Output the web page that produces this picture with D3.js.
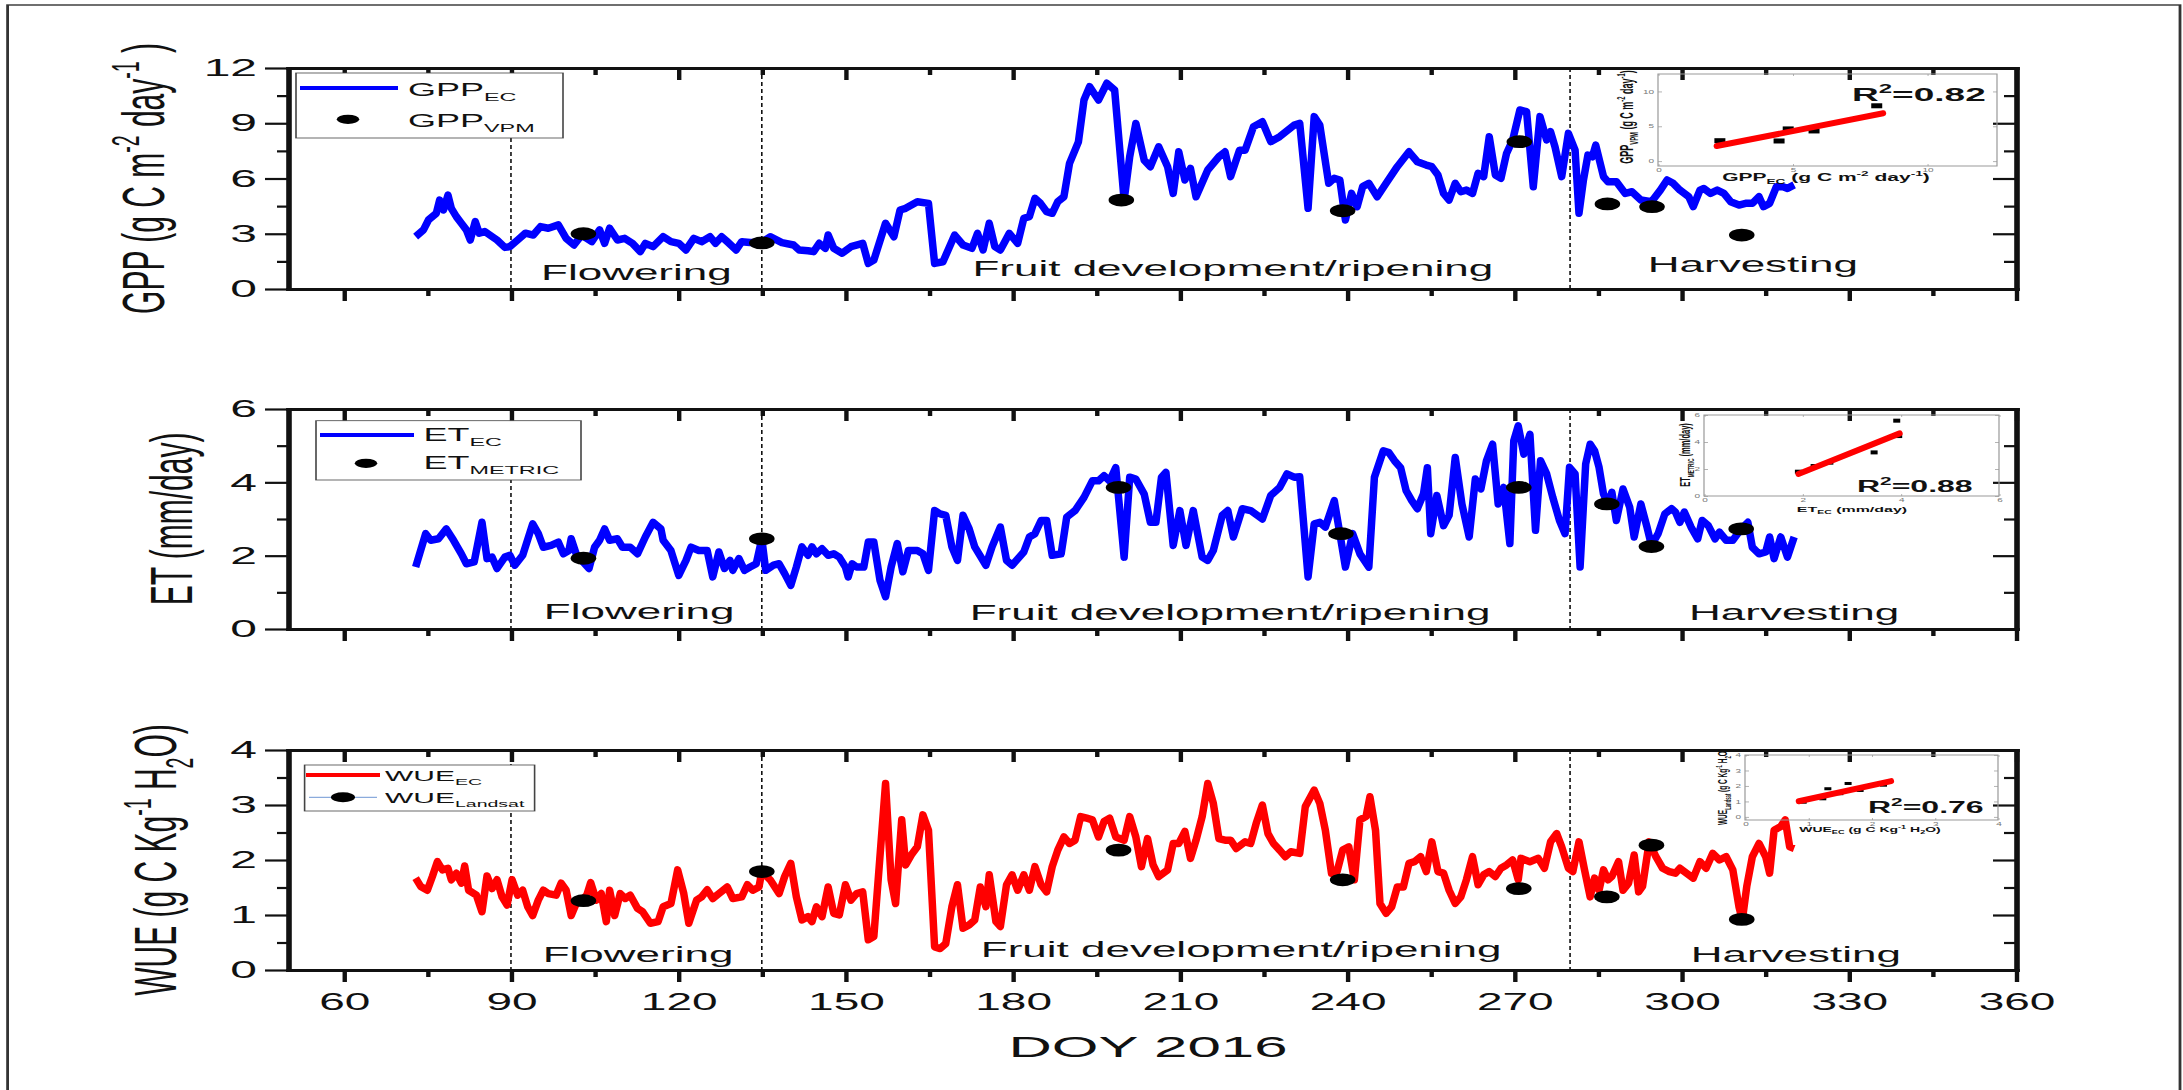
<!DOCTYPE html>
<html>
<head>
<meta charset="utf-8">
<script src="https://cdn.jsdelivr.net/npm/d3@7"></script>
<style>
  body { margin: 0; background: #fff; }
  text { font-family: "Liberation Sans", Arial, sans-serif; }
</style>
</head>
<body>
<svg id="chart" width="2183" height="1090"></svg>
<script>
// x axis ticks and crop phases (DOY)
const doyMajor = [60, 90, 120, 150, 180, 210, 240, 270, 300, 330, 360];
const doyMinor = [75, 105, 135, 165, 195, 225, 255, 285, 315, 345];
const phaseBounds = [90, 135, 280];
const phaseNames = ['Flowering', 'Fruit development/ripening', 'Harvesting'];

// y ticks
const gppTicks = [0, 3, 6, 9, 12], gppMinor = [1.5, 4.5, 7.5, 10.5];
const etTicks = [0, 2, 4, 6], etMinor = [1, 3, 5];
const wueTicks = [0, 1, 2, 3, 4], wueMinor = [0.5, 1.5, 2.5, 3.5];

// eddy covariance series [DOY, value]
const gppEC = [[72.9,2.84],[74.3,3.21],[75.2,3.75],[76.6,4.11],[77.2,4.83],[77.9,4.29],[78.7,5.10],[79.3,4.38],[80.2,3.93],[81.1,3.57],[82.0,3.21],[82.7,2.66],[83.6,3.66],[84.3,3.03],[85.3,3.12],[86.2,2.93],[87.5,2.66],[88.9,2.26],[89.8,2.30],[91.2,2.66],[92.6,3.03],[94.0,2.93],[95.3,3.39],[96.7,3.30],[98.5,3.48],[99.9,2.75],[101.3,2.39],[102.7,2.93],[104.5,2.57],[105.9,3.21],[106.8,2.48],[107.7,3.30],[109.1,2.66],[110.4,2.75],[111.8,2.48],[113.2,2.03],[114.1,2.48],[115.5,2.30],[117.3,2.84],[118.7,2.57],[120.1,2.48],[121.4,2.12],[122.8,2.75],
  [124.2,2.57],[125.7,2.84],[126.7,2.48],[127.8,2.84],[128.8,2.57],[130.4,2.12],[131.4,2.57],[132.9,2.52],[135,2.52],[136.5,2.84],[138.6,2.52],[140.7,2.39],[141.7,2.12],[143.3,2.08],[144.3,2.03],[145.3,2.48],[146.4,2.21],[146.9,2.93],[147.9,2.21],[149.4,1.94],[151,2.30],[153.1,2.48],[154.1,1.39],[155.1,1.57],[157.2,3.57],[158.7,2.84],[159.8,4.29],[160.8,4.38],[162.9,4.74],[164.9,4.65],[166,1.39],[167.5,1.48],[169.6,2.93],[171.1,2.39],[172.7,2.21],[173.7,3.02],[174.7,2.12],[175.8,3.57],[176.8,2.30],[177.8,2.12],[179.4,3.02],[180.9,2.48],[182,3.84],[183,3.93],[184,4.92],[185,4.65],[186.1,4.20],[187.1,4.11],[188.1,4.74],[189.2,5.01],[190.2,6.82],[191.8,7.99],[192.8,10.26],[193.8,10.99],[195.4,10.26],[196.9,11.17],[198.3,10.8],[200,4.83],[201,7.18],[202.1,8.99],[203.6,7.00],[204.7,6.64],[206.2,7.72],[207.8,6.64],[208.8,5.19],[209.8,7.45],[210.9,5.92],[211.9,6.55],[212.9,5.01],[215,6.46],[217,7.18],[218.1,7.45],[219.1,6.10],[220.7,7.54],[221.7,7.54],[223.2,8.81],[224.8,9.08],[226.3,8.00],[227.9,8.27],[230.5,8.90],[231.5,8.99],[233,4.38],[234.1,9.36],[235.1,8.90],[236.7,5.74],[237.7,6.01],[238.7,5.92],[239.7,3.75],[240.8,5.19],[241.8,4.47],[242.8,5.56],[243.9,5.74],[245.4,5.01],[247,5.74],[249,6.64],[251.1,7.45],[252.6,6.91],[254.2,6.73],[255.2,6.64],[256.3,6.19],[257.3,5.19],[258.3,4.83],[259.4,5.74],[260.4,5.28],[261.4,5.37],[262.5,5.19],[263.5,6.28],[264.5,6.10],[265.5,8.27],[266.6,6.19],[267.6,6.01],[268.6,7.36],[269.7,8.09],
  [271.0,9.72],[272.2,9.63],[273.4,5.55],[274.6,9.36],[275.8,8.09],[276.5,8.54],[277.3,7.72],[278.5,6.10],[279.7,8.45],[280.9,7.54],[281.6,4.11],[282.4,5.92],[283.2,7.27],[284.0,7.18],[284.6,7.81],[286.0,6.10],[286.8,5.83],[288.3,5.83],[289.9,5.19],[291.1,5.28],[292.7,4.83],[294.6,4.74],[296.2,5.37],[297.4,5.92],[298.5,5.74],[299.7,5.37],[301.3,5.01],[302.1,4.47],[303.3,5.37],[304.0,5.46],[305.2,5.19],[306.4,5.37],[307.6,5.19],[308.8,4.74],[310.3,4.56],[311.5,4.65],[312.7,4.65],[313.9,5.01],[314.7,4.47],[315.8,4.65],[317.0,5.55],[318.2,5.55],[319.0,5.46],[320.2,5.65]];

const etEC = [[72.9,1.69],[74.7,2.60],[75.6,2.42],[77.0,2.46],[78.4,2.73],[79.7,2.42],[81.1,2.05],[82.0,1.78],[83.4,1.83],[84.8,2.91],[85.7,1.92],[86.6,1.96],[87.5,1.65],[88.9,1.96],[89.8,2.01],[90.7,1.74],[92.1,2.01],[93.9,2.87],[94.9,2.60],[95.8,2.23],[97.2,2.28],[98.5,2.37],[99.4,2.05],[100.4,2.14],[100.8,2.46],[101.7,2.05],[102.7,1.87],[104.0,1.65],[105.0,2.23],[105.9,2.42],[106.8,2.73],[107.7,2.42],[109.1,2.46],[110.0,2.23],[111.4,2.23],[112.7,2.05],[114.1,2.51],[115.5,2.91],[116.9,2.73],[117.3,2.42],[118.7,2.14],[120.1,1.46],[121.4,1.87],[122.3,2.23],[123.7,2.14],
  [125.2,2.14],[126.2,1.42],[127.3,2.10],[128.3,1.65],[129.3,1.87],[129.8,1.60],[130.9,1.92],[131.9,1.60],[132.9,1.69],[134.0,1.78],[135.0,2.46],[135.7,1.60],[137.1,1.74],[138.1,1.78],[139.1,1.51],[140.2,1.19],[141.2,1.69],[142.2,2.24],[143.3,2.01],[144.0,2.24],[144.8,2.05],[145.8,2.19],[146.9,2.01],[147.9,2.05],[148.9,1.96],[150.0,1.69],[150.5,1.42],[151.2,1.78],[152.0,1.69],[153.3,1.69],[154.1,2.37],[155.1,2.37],[156.2,1.33],[157.2,0.88],[158.2,1.69],[159.3,2.33],[160.3,1.56],[161.3,2.14],[162.9,2.14],[163.9,2.05],[164.9,1.60],[166.0,3.23],[167.0,3.14],[168.0,3.10],[169.1,2.24],[170.1,1.87],[171.1,3.10],[172.2,2.73],[173.2,2.24],[175.2,1.74],[176.3,2.24],[177.8,2.78],[178.9,1.87],[179.9,1.74],[182.0,2.10],[183.0,2.51],[184.0,2.60],[185.1,2.96],[186.1,2.96],[187.1,2.01],[188.7,2.05],[189.7,3.05],[191.2,3.23],[192.8,3.59],[194.3,4.04],[195.4,4.04],[196.4,4.18],[197.4,4.04],[198.5,4.40],[200.0,1.96],[201.0,4.14],[202.1,4.09],[203.6,3.68],[204.7,2.91],[205.7,2.91],[206.7,4.14],[207.5,4.27],[208.8,2.28],[210.0,3.23],[211.1,2.28],[212.4,3.23],[214.0,1.96],[215.0,1.87],[216.0,2.14],[217.6,3.10],[218.6,3.23],[219.6,2.51],[221.2,3.28],[222.7,3.23],[224.8,3.00],[226.3,3.64],[227.9,3.86],[229.2,4.23],[230.5,4.14],[231.5,4.15],[233.0,1.42],[234.1,2.87],[235.1,2.91],[236.1,2.78],[237.7,3.50],[238.7,2.60],[239.7,1.69],[241.0,2.60],[242.3,2.05],[243.9,1.69],[244.9,4.14],[246.5,4.86],[247.5,4.81],[248.5,4.59],[249.6,4.40],[250.6,3.77],[251.6,3.50],[252.6,3.28],[253.7,3.68],[254.4,4.40],[255.0,2.60],[256.1,3.64],[257.3,2.82],[258.3,3.10],[259.4,4.68],[260.6,3.41],[261.9,2.51],[263.0,4.09],[264.0,3.82],[265.0,4.59],[266.1,5.04],[267.1,3.41],[268.1,3.86],[269.2,2.33],[269.9,5.13],[270.7,5.54],[271.7,4.77],[272.8,5.31],[273.8,2.69],
  [274.7,4.59],[275.8,4.23],[276.9,3.59],[278.1,2.96],[279.1,2.60],[279.9,4.41],[280.9,4.23],[281.8,1.69],[282.8,4.50],[283.6,5.04],[284.4,4.86],[285.2,4.41],[286.0,3.68],[286.8,3.41],[287.5,3.73],[288.3,2.96],[289.5,3.82],[290.7,3.32],[291.5,2.51],[292.7,3.41],[293.8,2.78],[294.6,2.28],[295.8,2.60],[297.0,3.14],[298.2,3.28],[298.9,3.19],[299.7,2.91],[300.5,3.19],[301.7,2.78],[302.9,2.46],[303.7,2.96],[304.8,2.82],[306.0,2.46],[306.8,2.64],[308.0,2.42],[309.2,2.42],[310.7,2.73],[311.9,2.91],[312.7,2.23],[313.9,2.05],[315.1,2.10],[315.8,2.51],[316.6,1.92],[317.8,2.51],[319.0,1.96],[320.2,2.51]];

const wueEC = [[72.9,1.67],[73.8,1.52],[75.0,1.45],[75.9,1.70],[76.8,1.97],[77.7,1.82],[78.7,1.85],[79.3,1.64],[80.2,1.76],[81.1,1.58],[81.7,1.89],[82.4,1.45],[83.8,1.36],[84.8,1.06],[85.7,1.71],[86.6,1.48],[87.5,1.64],[88.4,1.33],[89.3,1.18],[90.2,1.64],[91.2,1.36],[92.1,1.45],[93.0,1.15],[93.9,0.99],[94.9,1.27],[95.8,1.45],[96.7,1.39],[98.1,1.36],[99.0,1.58],[99.9,1.45],[100.8,0.99],[101.7,1.21],[102.7,1.27],[103.6,1.36],[104.3,1.59],[105.3,1.27],[106.2,1.39],[107.1,0.88],[107.7,1.45],[108.6,0.99],[109.6,1.39],[110.5,1.30],[111.4,1.36],[112.7,1.12],[113.6,1.06],[115.0,0.85],[116.4,0.88],[117.3,1.15],[118.7,1.21],[119.9,1.82],[121.0,1.39],[121.9,0.85],[123.3,1.27],
  [124.2,1.33],[125.2,1.46],[126.2,1.30],[127.3,1.39],[128.8,1.51],[129.8,1.30],[131.4,1.33],[132.4,1.55],[133.4,1.45],[134.5,1.51],[135.0,1.79],[136.5,1.64],[138.1,1.39],[139.1,1.70],[140.2,1.94],[141.2,1.33],[142.2,0.91],[143.3,0.97],[144.0,0.88],[144.8,1.15],[145.8,0.97],[146.9,1.51],[147.9,1.03],[148.9,1.00],[150.0,1.55],[151.0,1.27],[152.0,1.39],[153.1,1.42],[154.1,0.55],[155.1,0.61],[157.2,3.39],[158.2,1.64],[159.0,1.21],[160.1,2.73],[160.8,1.91],[161.8,2.09],[162.9,2.24],[163.9,2.82],[164.9,2.54],[166.0,0.42],[167.0,0.39],[168.0,0.48],[169.1,1.15],[170.1,1.55],[171.1,0.76],[172.2,0.82],[173.2,0.91],[174.2,1.51],[175.2,1.15],[175.8,1.73],[177.0,0.88],[177.8,0.79],[178.9,1.55],[179.9,1.73],[180.9,1.45],[182.0,1.73],[183.0,1.45],[184.0,1.88],[185.1,1.55],[186.1,1.42],[187.1,1.88],[188.1,2.18],[189.2,2.42],[190.2,2.30],[191.2,2.36],[192.2,2.79],[193.3,2.76],[194.3,2.73],[195.4,2.42],[196.4,2.70],[197.4,2.76],[198.5,2.42],[200.0,2.36],[201.0,2.79],[202.1,2.42],[203.1,1.88],[204.2,2.39],[205.2,1.91],[206.2,1.70],[207.8,1.82],[208.8,2.30],[209.8,2.30],[210.9,2.52],[211.9,2.03],[212.9,2.36],[214.0,2.79],[215.0,3.39],[216.0,3.03],[217.0,2.39],[218.1,2.36],[219.1,2.36],[220.1,2.21],[221.7,2.33],[222.7,2.30],[223.7,2.67],[224.8,3.00],[225.8,2.48],[226.8,2.30],[227.9,2.18],[228.9,2.06],[229.9,2.15],[231.5,2.12],[232.5,2.97],[234.1,3.27],[235.1,3.03],[236.1,2.54],[237.2,1.76],[238.2,1.79],[239.2,2.18],[240.3,2.24],[241.3,1.64],[242.3,2.73],[243.4,2.79],[244.1,3.15],[245.1,2.54],[245.9,1.21],[247.0,1.03],[248.0,1.15],[249.0,1.51],[250.1,1.51],[251.1,1.94],[252.1,1.97],[253.2,2.06],[254.2,1.79],[255.2,2.33],[256.3,1.79],[257.3,1.76],[258.3,1.45],[259.4,1.21],[260.4,1.33],[261.4,1.64],[262.5,2.06],[263.5,1.55],[264.5,1.73],[265.5,1.79],[266.6,1.70],[267.6,1.85],[268.6,1.91],[269.7,2.00],[270.7,1.64],[271.2,2.03],[272.8,1.97],[274.3,2.03],
  [275.4,1.85],[276.5,2.33],[277.6,2.48],[278.5,2.24],[279.7,1.85],[280.5,1.79],[281.6,2.33],[282.6,1.82],[283.6,1.33],[284.4,1.67],[285.2,1.45],[286.0,1.82],[286.8,1.64],[287.5,1.70],[288.7,1.97],[289.5,1.45],[290.5,1.58],[291.5,2.09],[292.3,1.42],[293.0,1.52],[294.2,2.33],[295.4,2.06],[296.6,1.85],[297.8,1.79],[298.9,1.76],[299.7,1.85],[300.9,1.76],[302.1,1.67],[303.3,1.97],[304.4,1.85],[305.6,2.12],[306.8,2.00],[308.0,2.06],[309.2,1.82],[310.3,1.15],[310.9,0.91],[311.7,1.52],[312.7,2.06],[313.9,2.30],[315.1,2.06],[315.8,1.76],[316.6,2.54],[317.8,2.61],[318.6,2.73],[319.4,2.24],[320.2,2.21]];

// satellite estimates [DOY, value]
const gppVPM = [[103,3.0],[135,2.5],[199.5,4.83],[239.2,4.25],[270.9,8.0],[286.7,4.62],[294.7,4.47],[310.8,2.93]];
const etMETRIC = [[103,1.93],[135,2.46],[199,3.86],[238.9,2.6],[270.8,3.86],[286.6,3.41],[294.6,2.25],[310.7,2.73]];
const wueLandsat = [[103,1.26],[135,1.79],[199,2.18],[239.2,1.64],[270.8,1.48],[286.6,1.33],[294.6,2.27],[310.8,0.92]];

// inset scatter points [EC, satellite] and fitted lines
const gppPairs = [[2.3,2.93],[4.5,2.89],[4.84,4.62],[5.8,4.33],[8.13,7.94]];
const gppFit = [[2.18,2.16],[8.37,6.87]];
const etPairs = [[1.92,1.8],[2.24,2.22],[2.56,2.47],[3.46,3.23],[3.92,5.58],[3.96,4.44]];
const etFit = [[1.92,1.63],[3.98,4.64]];
const wuePairs = [[0.92,0.95],[1.23,1.17],[1.31,1.82],[1.5,1.5],[1.63,2.16],[1.82,1.71],[2.19,2.05]];
const wueFit = [[0.85,1.01],[2.31,2.31]];
const r2Values = ['0.82', '0.88', '0.76'];

const FONT = '"Liberation Sans", Arial, sans-serif';
const INK = '#111';

const svg = d3.select('#chart');
// the figure is stretched twice as wide as it is tall
const root = svg.append('g').attr('transform', 'scale(2,1)');

// outer frame (its bottom edge is cut off)
root.append('rect').attr('x', 3.8).attr('y', 5).attr('width', 1086.2).attr('height', 1120)
  .attr('fill', 'none').attr('stroke', '#333').attr('stroke-width', 1.4);

const x = d3.scaleLinear().domain([50, 360]).range([144, 1008]);

function rich(text, parts, size) {
  let shift = 0;
  parts.forEach(p => {
    const target = p.sub ? size * 0.28 : p.sup ? -size * 0.42 : 0;
    text.append('tspan')
      .attr('dy', target - shift)
      .attr('font-size', (p.sub || p.sup) ? size * 0.65 : size)
      .text(p.t);
    shift = target;
  });
  return text;
}

function styleAxis(sel, fontSize) {
  sel.attr('font-family', FONT).attr('font-size', fontSize);
  sel.select('.domain').attr('stroke', INK).attr('stroke-width', 2.8).attr('stroke-linecap', 'square');
  sel.selectAll('.tick line').attr('stroke', INK).attr('stroke-width', 2.2);
  sel.selectAll('.tick text').attr('fill', INK);
}

const panels = [
  { top: 68, bottom: 289, yMax: 12, ticks: gppTicks, minor: gppMinor, line: gppEC, dots: gppVPM, color: '#0000ff',
    title: [{t:'GPP (g C m'},{t:'-2',sup:1},{t:' day'},{t:'-1',sup:1},{t:' )'}], titleX: 82,
    phases: [[112.5, 280], [219.5, 276], [312.8, 272]],
    legend: { x0: 148, x1: 281.5, y0: 73, y1: 138, lx0: 150, lx1: 199, ly: 88, tx: 204, t1y: 95.7, t2y: 126.7, dx: 174, dy: 119.3, fs: 18,
      n1: [{t:'GPP'},{t:'EC',sub:1}], n2: [{t:'GPP'},{t:'VPM',sub:1}], thin: false },
    inset: { x0: 829, x1: 998.5, y0: 74, y1: 166, xd: [0, 12.6], yd: [-0.7, 12.5], xt: [0, 5, 10], yt: [0, 5, 10],
      pts: gppPairs, fit: gppFit, sw: 5.5, sh: 5, r2x: 926, r2y: 101, r2fs: 18.5,
      xl: [{t:'GPP'},{t:'EC',sub:1},{t:' (g C m'},{t:'-2',sup:1},{t:' day'},{t:'-1',sup:1},{t:')'}], xlx: 913, xly: 180.7, xlfs: 10.5,
      yl: [{t:'GPP'},{t:'VPM',sub:1},{t:' (g C m'},{t:'-2',sup:1},{t:' day'},{t:'-1',sup:1},{t:')'}], ylx: 816.5, yly: 117, ylfs: 9 } },
  { top: 409, bottom: 629, yMax: 6, ticks: etTicks, minor: etMinor, line: etEC, dots: etMETRIC, color: '#0000ff',
    title: [{t:'ET (mm/day)'}], titleX: 96,
    phases: [[113, 619], [219, 620], [320.2, 620]],
    legend: { x0: 158, x1: 290.5, y0: 420.7, y1: 480, lx0: 160, lx1: 207, ly: 435, tx: 211.75, t1y: 440.7, t2y: 469.3, dx: 183, dy: 463.3, fs: 18,
      n1: [{t:'ET'},{t:'EC',sub:1}], n2: [{t:'ET'},{t:'METRIC',sub:1}], thin: false },
    inset: { x0: 852, x1: 999.5, y0: 415, y1: 496, xd: [0, 6], yd: [0, 6], xt: [0, 2, 4, 6], yt: [0, 2, 4, 6],
      pts: etPairs, fit: etFit, sw: 3.5, sh: 4, r2x: 928.5, r2y: 491.7, r2fs: 16,
      xl: [{t:'ET'},{t:'EC',sub:1},{t:' (mm/day)'}], xlx: 926, xly: 511.7, xlfs: 8,
      yl: [{t:'ET'},{t:'METRIC',sub:1},{t:' (mm/day)'}], ylx: 845, yly: 455, ylfs: 7.5 } },
  { top: 750, bottom: 970, yMax: 4, ticks: wueTicks, minor: wueMinor, line: wueEC, dots: wueLandsat, color: '#ff0000',
    title: [{t:'WUE (g C Kg'},{t:'-1',sup:1},{t:' H'},{t:'2',sub:1},{t:'O)'}], titleX: 88,
    phases: [[112.8, 962], [221, 957], [320.5, 962]],
    legend: { x0: 152.3, x1: 267.3, y0: 765, y1: 811, lx0: 153, lx1: 190, ly: 775, tx: 192.5, t1y: 780.7, t2y: 802.7, dx: 171.5, dy: 797.3, fs: 15,
      n1: [{t:'WUE'},{t:'EC',sub:1}], n2: [{t:'WUE'},{t:'Landsat',sub:1}], thin: true },
    inset: { x0: 872.5, x1: 999, y0: 755, y1: 820, xd: [0, 4], yd: [-0.2, 4], xt: [0, 1, 2, 3, 4], yt: [0, 1, 2, 3, 4],
      pts: wuePairs, fit: wueFit, sw: 3.5, sh: 3, r2x: 934, r2y: 813, r2fs: 16,
      xl: [{t:'WUE'},{t:'EC',sub:1},{t:' (g C Kg'},{t:'-1',sup:1},{t:' H'},{t:'2',sub:1},{t:'O)'}], xlx: 935, xly: 831.7, xlfs: 7,
      yl: [{t:'WUE'},{t:'Landsat',sub:1},{t:' (g C Kg'},{t:'-1',sup:1},{t:' H'},{t:'2',sub:1},{t:'O)'}], ylx: 863.5, yly: 787, ylfs: 6.5 } }
];

panels.forEach((p, i) => {
  const y = d3.scaleLinear().domain([0, p.yMax]).range([p.bottom, p.top]);
  const g = root.append('g');

  // phase boundaries
  g.selectAll('line.phase').data(phaseBounds).join('line')
    .attr('class', 'phase')
    .attr('x1', d => x(d)).attr('x2', d => x(d))
    .attr('y1', p.top).attr('y2', p.bottom)
    .attr('stroke', INK).attr('stroke-width', 0.8).attr('stroke-dasharray', '4,3');

  // EC line
  g.append('path').datum(p.line)
    .attr('d', d3.line().x(d => x(d[0])).y(d => y(d[1])))
    .attr('fill', 'none').attr('stroke', p.color).attr('stroke-width', 7.5)
    .attr('stroke-linejoin', 'round')
    .style('vector-effect', 'non-scaling-stroke');

  // satellite dots
  g.selectAll('circle.obs').data(p.dots).join('circle')
    .attr('class', 'obs')
    .attr('cx', d => x(d[0])).attr('cy', d => y(d[1])).attr('r', 6.4).attr('fill', '#000');

  // axes
  const last = i === panels.length - 1;
  g.append('g').attr('transform', `translate(0,${p.bottom})`)
    .call(d3.axisBottom(x).tickValues(doyMajor).tickSize(12).tickSizeOuter(0).tickPadding(12)
      .tickFormat(last ? d3.format('d') : ''))
    .call(s => styleAxis(s, 23));
  g.append('g').attr('transform', `translate(0,${p.bottom})`)
    .call(d3.axisBottom(x).tickValues(doyMinor).tickSize(7).tickFormat(''))
    .call(s => { styleAxis(s, 10); s.select('.domain').remove(); });
  g.append('g').attr('transform', `translate(0,${p.top})`)
    .call(d3.axisTop(x).tickValues(doyMajor).tickSize(-12).tickSizeOuter(0).tickFormat(''))
    .call(s => styleAxis(s, 10));
  g.append('g').attr('transform', `translate(0,${p.top})`)
    .call(d3.axisTop(x).tickValues(doyMinor).tickSize(-7).tickFormat(''))
    .call(s => { styleAxis(s, 10); s.select('.domain').remove(); });
  g.append('g').attr('transform', `translate(${x.range()[0]},0)`)
    .call(d3.axisLeft(y).tickValues(p.ticks).tickSize(11.5).tickSizeOuter(0).tickPadding(4).tickFormat(d3.format('d')))
    .call(s => styleAxis(s, 24));
  g.append('g').attr('transform', `translate(${x.range()[0]},0)`)
    .call(d3.axisLeft(y).tickValues(p.minor).tickSize(5.5).tickFormat(''))
    .call(s => { styleAxis(s, 10); s.select('.domain').remove(); });
  g.append('g').attr('transform', `translate(${x.range()[1]},0)`)
    .call(d3.axisRight(y).tickValues(p.ticks).tickSize(-11.5).tickSizeOuter(0).tickFormat(''))
    .call(s => styleAxis(s, 10));
  g.append('g').attr('transform', `translate(${x.range()[1]},0)`)
    .call(d3.axisRight(y).tickValues(p.minor).tickSize(-6).tickFormat(''))
    .call(s => { styleAxis(s, 10); s.select('.domain').remove(); });

  // y title
  const ty = g.append('text')
    .attr('transform', `translate(${p.titleX},${(p.top + p.bottom) / 2}) rotate(-90)`)
    .attr('text-anchor', 'middle').attr('fill', INK).attr('font-size', 30);
  rich(ty, p.title, 30);

  // phase labels
  g.selectAll('text.phase').data(phaseNames).join('text')
    .attr('class', 'phase')
    .attr('x', (d, k) => x(p.phases[k][0])).attr('y', (d, k) => p.phases[k][1])
    .attr('text-anchor', 'middle').attr('font-size', 22).attr('fill', INK)
    .text(d => d);

  // legend
  const L = p.legend;
  const lg = g.append('g');
  lg.append('rect').attr('x', L.x0).attr('y', L.y0).attr('width', L.x1 - L.x0).attr('height', L.y1 - L.y0)
    .attr('fill', '#fff').attr('stroke', '#444').attr('stroke-width', 0.8);
  lg.append('line').attr('x1', L.lx0).attr('x2', L.lx1).attr('y1', L.ly).attr('y2', L.ly)
    .attr('stroke', p.color).attr('stroke-width', 4).style('vector-effect', 'non-scaling-stroke');
  if (L.thin) {
    lg.append('line').attr('x1', L.lx0 + 1.5).attr('x2', L.lx1 - 1.5).attr('y1', L.dy).attr('y2', L.dy)
      .attr('stroke', '#6f96d4').attr('stroke-width', 1).style('vector-effect', 'non-scaling-stroke');
  }
  lg.append('ellipse').attr('cx', L.dx).attr('cy', L.dy).attr('rx', L.thin ? 6 : 5.6).attr('ry', L.thin ? 5 : 4.6).attr('fill', '#000');
  rich(lg.append('text').attr('x', L.tx).attr('y', L.t1y).attr('fill', INK).attr('font-size', L.fs), L.n1, L.fs);
  rich(lg.append('text').attr('x', L.tx).attr('y', L.t2y).attr('fill', INK).attr('font-size', L.fs), L.n2, L.fs);

  // inset scatter
  const c = p.inset;
  const ix = d3.scaleLinear().domain(c.xd).range([c.x0, c.x1]);
  const iy = d3.scaleLinear().domain(c.yd).range([c.y1, c.y0]);
  const ig = g.append('g');
  const tinyAxis = s => {
    s.attr('font-family', FONT).attr('font-size', 5);
    s.select('.domain').remove();
    s.selectAll('.tick line').attr('stroke', '#999').attr('stroke-width', 0.5);
    s.selectAll('.tick text').attr('fill', '#777');
  };
  ig.append('g').attr('transform', `translate(0,${c.y1})`)
    .call(d3.axisBottom(ix).tickValues(c.xt).tickSize(-2).tickPadding(2).tickFormat(d3.format('d'))).call(tinyAxis);
  ig.append('g').attr('transform', `translate(0,${c.y0})`)
    .call(d3.axisTop(ix).tickValues(c.xt).tickSize(-2).tickFormat('')).call(tinyAxis);
  ig.append('g').attr('transform', `translate(${c.x0},0)`)
    .call(d3.axisLeft(iy).tickValues(c.yt).tickSize(-2).tickPadding(2).tickFormat(d3.format('d'))).call(tinyAxis);
  ig.append('g').attr('transform', `translate(${c.x1},0)`)
    .call(d3.axisRight(iy).tickValues(c.yt).tickSize(-2).tickFormat('')).call(tinyAxis);
  ig.append('rect').attr('x', c.x0).attr('y', c.y0).attr('width', c.x1 - c.x0).attr('height', c.y1 - c.y0)
    .attr('fill', 'none').attr('stroke', '#999').attr('stroke-width', 1.2).style('vector-effect', 'non-scaling-stroke');
  ig.selectAll('rect.pt').data(c.pts).join('rect')
    .attr('class', 'pt')
    .attr('x', d => ix(d[0]) - c.sw / 2).attr('y', d => iy(d[1]) - c.sh / 2)
    .attr('width', c.sw).attr('height', c.sh).attr('fill', '#000');
  ig.append('path').datum(c.fit)
    .attr('d', d3.line().x(d => ix(d[0])).y(d => iy(d[1])))
    .attr('stroke', '#ff0000').attr('stroke-width', 6).attr('stroke-linecap', 'round')
    .style('vector-effect', 'non-scaling-stroke');
  rich(ig.append('text').attr('x', c.r2x).attr('y', c.r2y).attr('font-weight', 'bold').attr('fill', INK).attr('font-size', c.r2fs),
    [{t:'R'},{t:'2',sup:1},{t:'=' + r2Values[i]}], c.r2fs);
  rich(ig.append('text').attr('x', c.xlx).attr('y', c.xly).attr('text-anchor', 'middle').attr('font-weight', 'bold')
    .attr('fill', INK).attr('font-size', c.xlfs), c.xl, c.xlfs);
  rich(ig.append('text').attr('transform', `translate(${c.ylx},${c.yly}) rotate(-90)`).attr('text-anchor', 'middle')
    .attr('font-weight', 'bold').attr('fill', INK).attr('font-size', c.ylfs), c.yl, c.ylfs);
});

// shared x title
root.append('text').attr('x', 574).attr('y', 1057).attr('text-anchor', 'middle')
  .attr('font-size', 30).attr('fill', INK).text('DOY 2016');
</script>
</body>
</html>
